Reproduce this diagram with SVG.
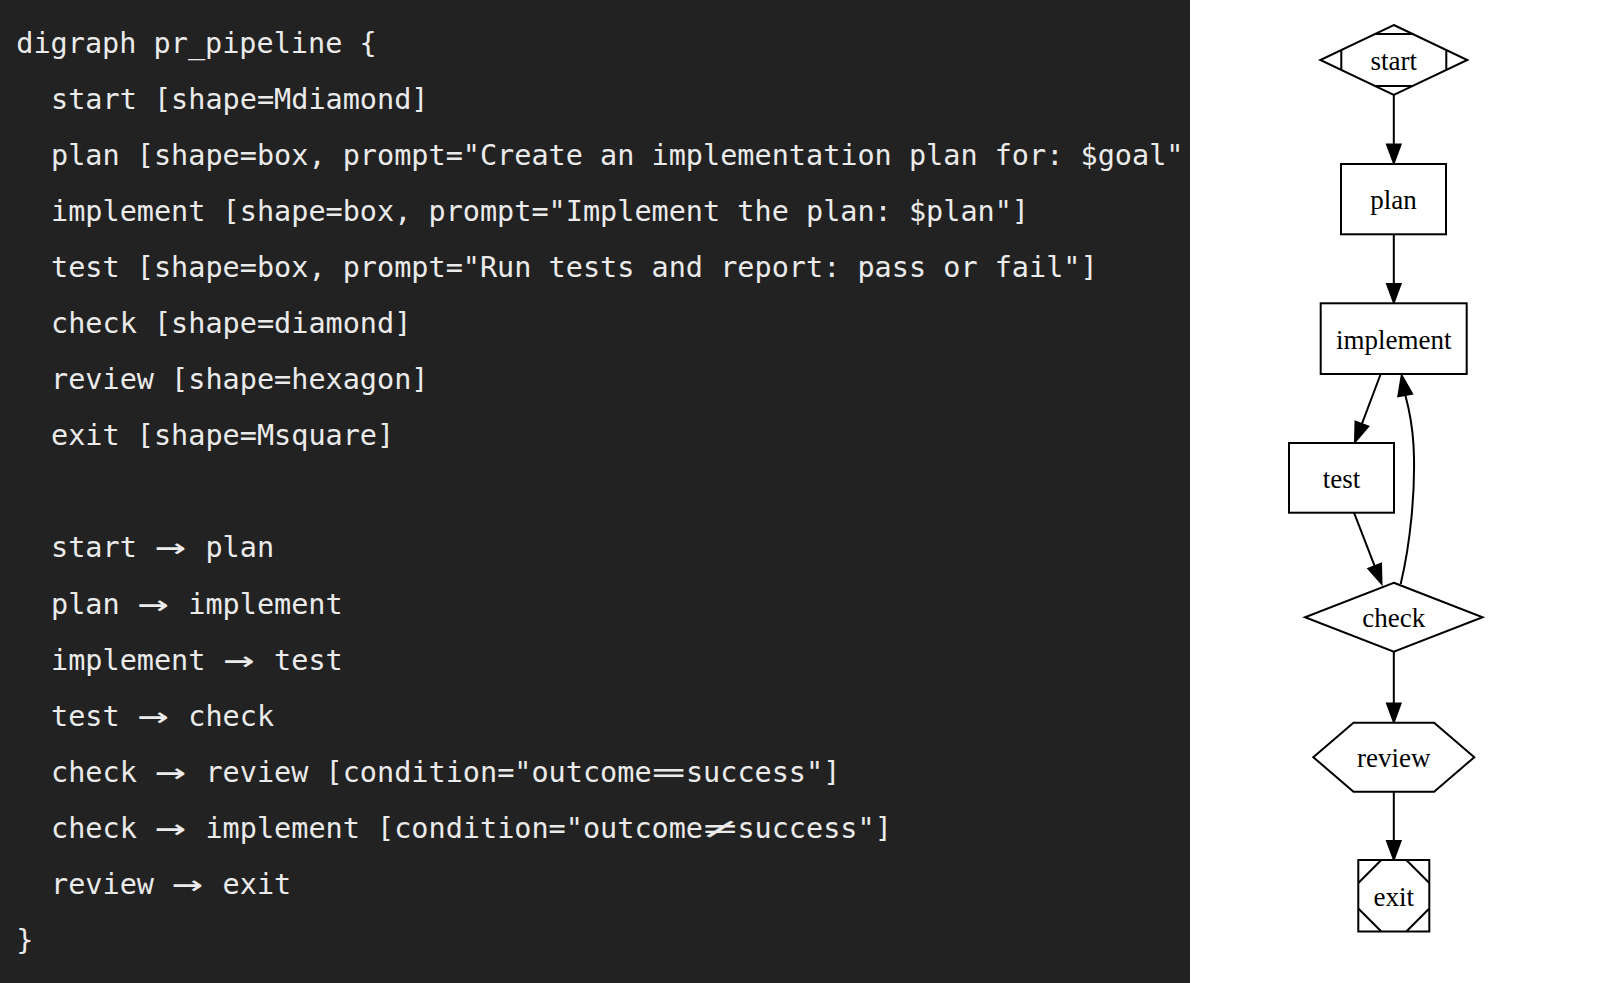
<svg xmlns="http://www.w3.org/2000/svg" width="1600" height="983" viewBox="0 0 1600 983">
<style>
.code{font-family:"DejaVu Sans Mono","Liberation Mono",monospace;font-size:28.5px;fill:#ebebeb;white-space:pre}
.arr{font-size:34px}
.lbl{font-family:"Liberation Serif","Times New Roman",serif;font-size:27px;text-anchor:middle;fill:#000}
.shape{fill:#fff;stroke:#000;stroke-width:2}
.line{fill:none;stroke:#000;stroke-width:2}
.edge{fill:none;stroke:#000;stroke-width:2}
.head{fill:#000;stroke:#000;stroke-width:2;stroke-linejoin:miter}
</style>
<rect x="0" y="0" width="1600" height="983" fill="#ffffff"/>
<g id="code-panel">
<rect x="0" y="0" width="1190" height="983" fill="#222222"/>
<text class="code" x="16.3" y="52.5">digraph pr_pipeline {</text>
<text class="code" x="51" y="108.6">start [shape=Mdiamond]</text>
<text class="code" x="51" y="164.7">plan [shape=box, prompt="Create an implementation plan for: $goal"</text>
<text class="code" x="51" y="220.8">implement [shape=box, prompt="Implement the plan: $plan"]</text>
<text class="code" x="51" y="276.9">test [shape=box, prompt="Run tests and report: pass or fail"]</text>
<text class="code" x="51" y="333">check [shape=diamond]</text>
<text class="code" x="51" y="389.1">review [shape=hexagon]</text>
<text class="code" x="51" y="445.2">exit [shape=Msquare]</text>

<text class="code" x="51" y="557.4">start</text>
<text class="code arr" x="155" y="558.4" textLength="31" lengthAdjust="spacingAndGlyphs">→</text>
<text class="code" x="205.44" y="557.4">plan</text>

<text class="code" x="51" y="613.5">plan</text>
<text class="code arr" x="137.8" y="614.5" textLength="31" lengthAdjust="spacingAndGlyphs">→</text>
<text class="code" x="188.28" y="613.5">implement</text>

<text class="code" x="51" y="669.6">implement</text>
<text class="code arr" x="223.6" y="670.6" textLength="31" lengthAdjust="spacingAndGlyphs">→</text>
<text class="code" x="274.08" y="669.6">test</text>

<text class="code" x="51" y="725.7">test</text>
<text class="code arr" x="137.8" y="726.7" textLength="31" lengthAdjust="spacingAndGlyphs">→</text>
<text class="code" x="188.28" y="725.7">check</text>

<text class="code" x="51" y="781.8">check</text>
<text class="code arr" x="155" y="782.8" textLength="31" lengthAdjust="spacingAndGlyphs">→</text>
<text class="code" x="205.44" y="781.8">review [condition="outcome</text>
<text class="code" x="651.6" y="781.8" textLength="34.3" lengthAdjust="spacingAndGlyphs">=</text>
<text class="code" x="685.92" y="781.8">success"]</text>

<text class="code" x="51" y="837.9">check</text>
<text class="code arr" x="155" y="838.9" textLength="31" lengthAdjust="spacingAndGlyphs">→</text>
<text class="code" x="205.44" y="837.9">implement [condition="outcome</text>
<text class="code" x="703.08" y="837.9" textLength="34.3" lengthAdjust="spacingAndGlyphs">≠</text>
<text class="code" x="737.4" y="837.9">success"]</text>

<text class="code" x="51" y="894">review</text>
<text class="code arr" x="172.1" y="895" textLength="31" lengthAdjust="spacingAndGlyphs">→</text>
<text class="code" x="222.6" y="894">exit</text>

<text class="code" x="16.3" y="950.1">}</text>
</g>

<g id="connectors">
<path class="edge" d="M1393.8,95 L1393.8,144.5"/>
<polygon class="head" points="1393.8,163 1387,144.5 1400.6,144.5"/>
<path class="edge" d="M1393.8,234.3 L1393.8,284"/>
<polygon class="head" points="1393.8,302.5 1387,284 1400.6,284"/>
<path class="edge" d="M1380.7,374 L1361.8,424.1"/>
<polygon class="head" points="1355,441.8 1368.2,426.5 1355.5,421.7"/>
<path class="edge" d="M1354,512.7 L1374.7,566.2"/>
<polygon class="head" points="1381.5,583.5 1381,563.8 1368.4,568.7"/>
<path class="edge" d="M1400.7,584 C1410,545 1416,490 1413.5,445 C1412,420 1408,405 1405.3,395"/>
<polygon class="head" points="1401.7,375.5 1412.1,393.8 1398.3,396.2"/>
<path class="edge" d="M1393.8,651.7 L1393.8,703.5"/>
<polygon class="head" points="1393.8,722 1387,703.5 1400.6,703.5"/>
<path class="edge" d="M1393.8,791.7 L1393.8,841"/>
<polygon class="head" points="1393.8,859.5 1387,841 1400.6,841"/>
</g>

<g id="node-start">
<polygon class="shape" points="1393.8,25 1467.3,60 1393.8,95 1320.3,60"/>
<path class="line" d="M1341.3,50 L1341.3,70 M1446.3,50 L1446.3,70 M1374.9,34 L1412.7,34 M1374.9,86 L1412.7,86"/>
<text class="lbl" x="1393.8" y="70">start</text>
</g>
<g id="node-plan">
<rect class="shape" x="1341" y="164" width="105" height="70.3"/>
<text class="lbl" x="1393.5" y="209">plan</text>
</g>
<g id="node-implement">
<rect class="shape" x="1320.7" y="303.3" width="146" height="70.7"/>
<text class="lbl" x="1393.7" y="348.5">implement</text>
</g>
<g id="node-test">
<rect class="shape" x="1289" y="443" width="105" height="69.7"/>
<text class="lbl" x="1341.5" y="487.5">test</text>
</g>
<g id="node-check">
<polygon class="shape" points="1393.8,582.7 1482.6,617.3 1393.8,651.7 1305,617.3"/>
<text class="lbl" x="1393.8" y="626.5">check</text>
</g>
<g id="node-review">
<polygon class="shape" points="1313.3,757.2 1353.5,722.7 1434.1,722.7 1474.3,757.2 1434.1,791.7 1353.5,791.7"/>
<text class="lbl" x="1393.8" y="766.5">review</text>
</g>
<g id="node-exit">
<rect class="shape" x="1358.3" y="860" width="71" height="71.5"/>
<path class="line" d="M1358.3,883 L1381.3,860 M1406.3,860 L1429.3,883 M1358.3,908.5 L1381.3,931.5 M1406.3,931.5 L1429.3,908.5"/>
<text class="lbl" x="1393.8" y="905.5">exit</text>
</g>
</svg>
